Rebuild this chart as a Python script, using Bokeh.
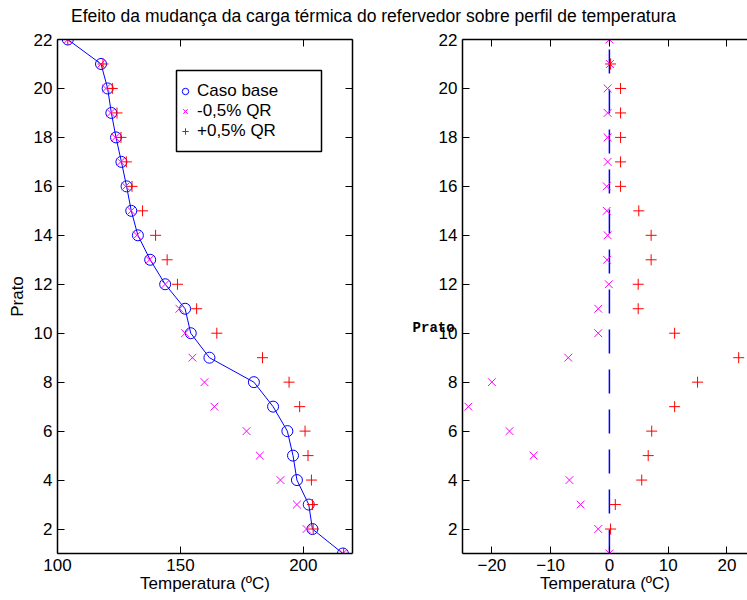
from bokeh.plotting import figure
from bokeh.models import (LinearAxis, FixedTicker, Legend, LegendItem, Label,
                          BoxAnnotation, Div, Range1d)
from bokeh.layouts import row, column
from bokeh.embed import file_html
from bokeh.resources import INLINE

# ---------------- data ----------------
stages = list(range(1, 23))  # Prato 1 .. 22

# left panel: temperature profiles (ºC), stage 1 .. 22
T_base = [216.1, 203.7, 202.2, 197.4, 195.8, 193.5, 187.7, 179.9, 161.8, 154.2,
          151.9, 143.8, 137.7, 132.7, 130.0, 128.1, 126.0, 123.8, 121.9, 120.4,
          117.7, 104.2]
T_minus = [216.1, 201.3, 197.4, 190.7, 182.3, 176.9, 163.8, 159.8, 154.9, 151.9,
           149.6, 143.8, 137.4, 132.3, 130.0, 127.7, 125.7, 123.5, 121.6, 119.7,
           117.7, 104.2]
T_plus = [216.4, 204.0, 203.7, 203.3, 201.9, 200.7, 198.5, 194.2, 183.4, 164.8,
          156.6, 148.8, 144.6, 139.9, 134.6, 130.3, 128.0, 125.8, 124.2, 122.3,
          118.5, 104.2]

# right panel: deviations from base case (ºC), stage 1 .. 22
dT_base = [0, 0, 0, 0, 0, 0, 0, 0, 0, 0, 0, 0, 0, 0, 0, 0, 0, 0, 0, 0, 0, 0]
dT_minus = [0, -1.9, -4.9, -6.8, -12.9, -17.0, -24.0, -20.0, -7.0, -1.9,
            -1.9, -0.1, -0.4, -0.3, -0.45, -0.45, -0.3, -0.3, -0.3, -0.3,
            0.1, 0]
dT_plus = [0, 0.2, 1.0, 5.5, 6.6, 7.2, 11.1, 15.0, 22.0, 11.1,
           4.9, 4.9, 7.1, 7.1, 5.0, 1.9, 1.9, 1.9, 1.9, 1.9,
           0.2, 0]

y_ticks = [2, 4, 6, 8, 10, 12, 14, 16, 18, 20, 22]
x_ticks_left = [100, 150, 200]
x_ticks_right = [-20, -10, 0, 10, 20]

title_text = "Efeito da mudança da carga térmica do refervedor sobre perfil de temperatura"
legend_labels = ["Caso base", "-0,5% QR", "+0,5% QR"]

FONT = "Liberation Sans"
BLUE = "#0000ff"
MAGENTA = "#ff00ff"
RED = "#ff0000"


def style_axis(ax, labels=True):
    ax.axis_line_color = "black"
    ax.axis_line_width = 1.5
    ax.major_tick_in = 7
    ax.major_tick_out = 0
    ax.major_tick_line_color = "black"
    ax.major_tick_line_width = 1
    ax.minor_tick_line_color = None
    ax.major_label_text_font = FONT
    ax.axis_label_text_font = FONT
    ax.axis_label_text_font_size = "17px"
    ax.axis_label_text_font_style = "normal"
    ax.axis_label_text_color = "black"
    if labels:
        ax.major_label_text_font_size = "17px"
        ax.major_label_text_color = "black"
        ax.major_label_standoff = 5
    else:
        ax.major_label_text_font_size = "1px"
        ax.major_label_text_color = None
        ax.major_label_standoff = 0


def make_fig(width, x_range, xt, border_left, border_right, right_axis=True):
    p = figure(width=width, height=570, x_range=x_range, y_range=Range1d(1, 22),
               output_backend="svg", toolbar_location=None,
               min_border_left=border_left, min_border_right=border_right,
               min_border_top=9, min_border_bottom=47)
    p.outline_line_color = None
    p.xgrid.visible = False
    p.ygrid.visible = False
    p.background_fill_color = "white"
    p.border_fill_color = "white"
    bottom = p.below[0]
    left = p.left[0]
    bottom.ticker = FixedTicker(ticks=xt)
    left.ticker = FixedTicker(ticks=y_ticks)
    style_axis(bottom)
    style_axis(left)
    top = LinearAxis(ticker=FixedTicker(ticks=xt))
    style_axis(top, labels=False)
    p.add_layout(top, "above")
    if right_axis:
        rgt = LinearAxis(ticker=FixedTicker(ticks=y_ticks))
        style_axis(rgt, labels=False)
        p.add_layout(rgt, "right")
    bottom.axis_label = "Temperatura (ºC)"
    bottom.axis_label_standoff = 0
    return p, bottom, left


# ---------------- left panel ----------------
p1, b1, l1 = make_fig(400, Range1d(100, 220), x_ticks_left, 57, 48)
l1.axis_label = "Prato"
l1.axis_label_standoff = 4

p1.line(T_base, stages, line_color=BLUE, line_width=1)
r_base = p1.scatter(T_base, stages, marker="circle", size=11, fill_color=None,
                    line_color=BLUE, line_width=1)
r_minus = p1.scatter(T_minus, stages, marker="x", size=11, line_color=MAGENTA,
                     line_width=1)
r_plus = p1.scatter(T_plus, stages, marker="cross", size=11, line_color=RED,
                    line_width=1)

box = BoxAnnotation(left=119, right=264, bottom=402, top=483,
                    left_units="screen", right_units="screen",
                    bottom_units="screen", top_units="screen",
                    fill_color="white", fill_alpha=1.0,
                    line_color="black", line_alpha=1.0, line_width=1.5)
p1.add_layout(box)

legend = Legend(items=[LegendItem(label=legend_labels[0], renderers=[r_base]),
                       LegendItem(label=legend_labels[1], renderers=[r_minus]),
                       LegendItem(label=legend_labels[2], renderers=[r_plus])],
                location=(120, 412), padding=0, margin=0, spacing=0,
                glyph_width=16, glyph_height=20, label_height=20,
                label_standoff=4, border_line_color=None,
                background_fill_alpha=0,
                label_text_font=FONT, label_text_font_size="17px",
                label_text_color="black")
p1.add_layout(legend)

# ---------------- right panel ----------------
p2, b2, l2 = make_fig(347, Range1d(-25, 23.5), x_ticks_right, 62, 0, right_axis=False)

p2.line(dT_base, stages, line_color=BLUE, line_width=1.5, line_dash="24 16")
p2.scatter(dT_minus, stages, marker="x", size=11, line_color=MAGENTA, line_width=1)
p2.scatter(dT_plus, stages, marker="cross", size=11, line_color=RED, line_width=1)

# the right panel's (mis-rendered) horizontal "Prato" y-axis label
if "axis_label_orientation" in l2.properties():
    l2.axis_label = "\n\n\n\nPrato"
    l2.axis_label_orientation = "horizontal"
    l2.axis_label_text_font = "Liberation Mono"
    l2.axis_label_text_font_size = "14px"
    l2.axis_label_text_font_style = "bold"
    l2.axis_label_text_line_height = 0.97
    l2.axis_label_standoff = -19
else:
    p2.add_layout(Label(x=-33.2, y=10, x_units="data", y_units="data", text="Prato",
                        text_font="Liberation Mono", text_font_size="13px",
                        text_color="#222222", text_baseline="alphabetic"))

# ---------------- title & layout ----------------
title = Div(text=title_text, width=747, height=30, margin=0,
            styles={"font-family": FONT, "font-size": "17.5px",
                    "text-align": "center", "line-height": "32px",
                    "color": "black", "white-space": "nowrap"})

layout = column(title, row(p1, p2, spacing=0), spacing=0)

open("out.html", "w").write(file_html(layout, INLINE))
